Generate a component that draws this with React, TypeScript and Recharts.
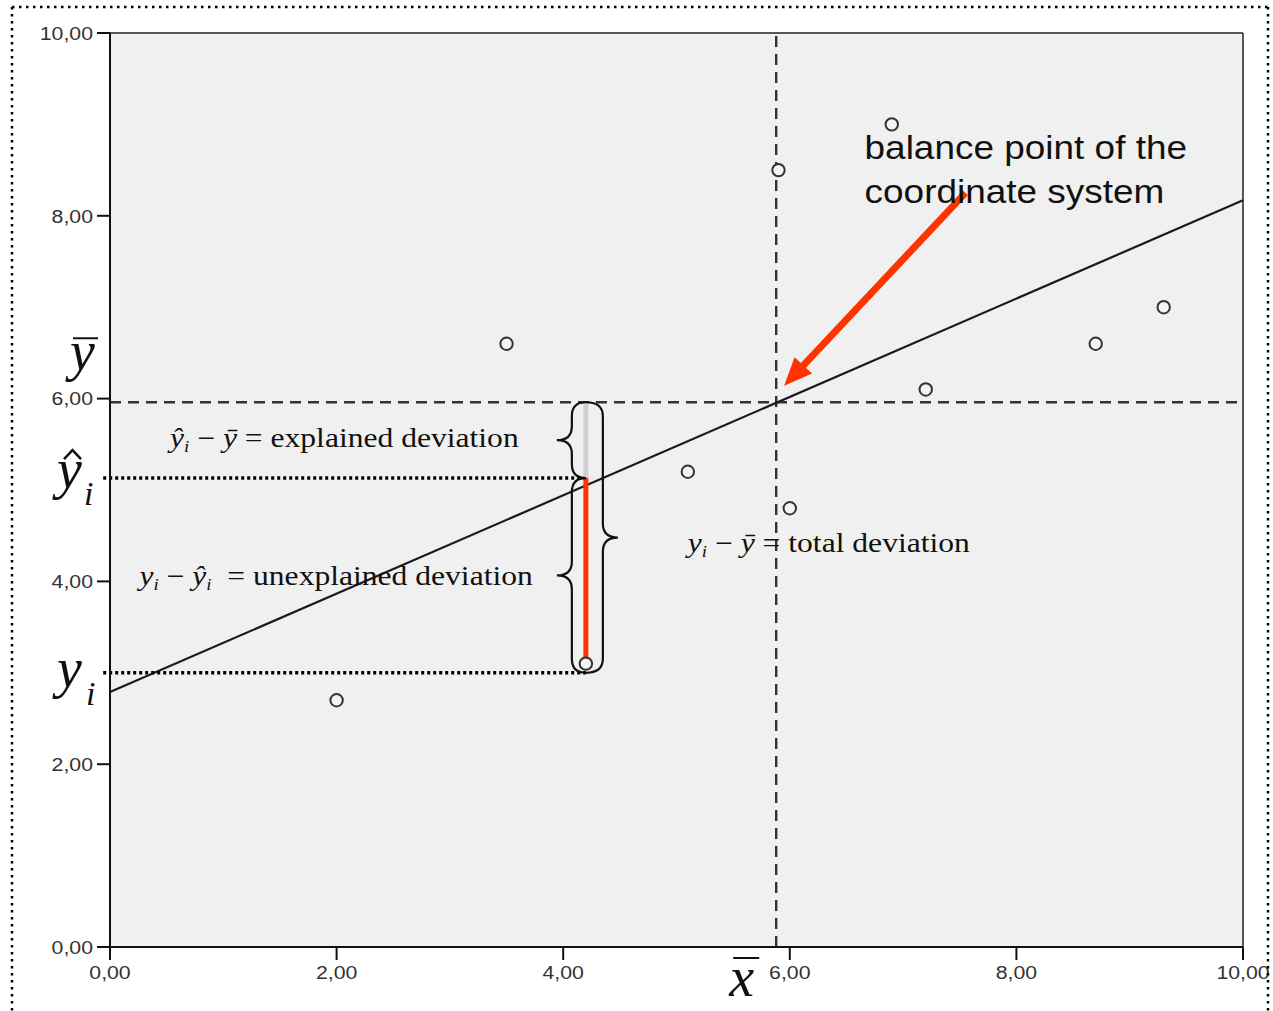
import React from 'react';
import { ScatterChart, Scatter, XAxis, YAxis, CartesianGrid, ReferenceLine, ReferenceDot } from 'recharts';

// ---- data ----
const POINT_X = [2.0, 3.5, 4.2, 5.1, 5.9, 6.0, 6.9, 7.2, 8.7, 9.3];
const POINT_Y = [2.7, 6.6, 3.1, 5.2, 8.5, 4.8, 9.0, 6.1, 6.6, 7.0];
const AXIS_TICKS = [0, 2, 4, 6, 8, 10];
const MEAN_X = 5.88;
const MEAN_Y = 5.96;
const REG_Y_AT_0 = 2.79;
const REG_Y_AT_10 = 8.17;
const SELECTED_X = 4.2;
const SELECTED_Y = 3.1;
const SELECTED_YHAT = 5.13;
const SELECTED_Y_GUIDE = 3.0;

const points = POINT_X.map((x, i) => ({ x, y: POINT_Y[i] }));

const fmt = (v: number) => v.toFixed(2).replace('.', ',');

const SERIF = '"Liberation Serif", "Times New Roman", serif';
const SANS = '"Liberation Sans", Arial, sans-serif';
const RED = '#ff3300';
const INK = '#111';
const STRETCH = 1.17;

const Circle = (p: any) => (
  <circle cx={p.cx} cy={p.cy} r={6.2} fill="#f4f4f4" stroke="#333" strokeWidth={2} />
);

const YTick = (p: any) => (
  <g transform={`translate(${p.x},${p.y}) scale(1.12,1)`}>
    <text x={0} y={0} dy="0.355em" textAnchor="end" fontFamily={SANS} fontSize={19} fill="#333">
      {fmt(p.payload.value)}
    </text>
  </g>
);

const XTick = (p: any) => (
  <g transform={`translate(${p.x},${p.y}) scale(1.12,1)`}>
    <text x={0} y={0} dy="0.71em" textAnchor="middle" fontFamily={SANS} fontSize={19} fill="#333">
      {fmt(p.payload.value)}
    </text>
  </g>
);

function bracePath(xBar: number, yA: number, yB: number, dir: number, off: number, tip: number, r: number) {
  const yt = Math.min(yA, yB);
  const yb = Math.max(yA, yB);
  const ym = (yt + yb) / 2;
  const xs = xBar + dir * off;
  const xt = xBar + dir * tip;
  return `M ${xBar} ${yt} Q ${xs} ${yt} ${xs} ${yt + r} L ${xs} ${ym - r} Q ${xs} ${ym} ${xt} ${ym} Q ${xs} ${ym} ${xs} ${ym + r} L ${xs} ${yb - r} Q ${xs} ${yb} ${xBar} ${yb}`;
}

const braceShape = (dir: number, off: number, tip: number) => (p: any) => (
  <path d={bracePath(p.x1, p.y1, p.y2, dir, off, tip, 14)} fill="none" stroke={INK} strokeWidth={2.2} />
);

const arrowShape = (p: any) => {
  const { x1, y1, x2, y2 } = p;
  const dx = x2 - x1;
  const dy = y2 - y1;
  const len = Math.sqrt(dx * dx + dy * dy);
  const ux = dx / len;
  const uy = dy / len;
  const headLen = 28;
  const halfW = 12;
  const bx = x2 - ux * headLen;
  const by = y2 - uy * headLen;
  const px = -uy;
  const py = ux;
  return (
    <g>
      <line x1={x1} y1={y1} x2={bx + ux * 4} y2={by + uy * 4} stroke={RED} strokeWidth={7} />
      <polygon points={`${x2},${y2} ${bx + px * halfW},${by + py * halfW} ${bx - px * halfW},${by - py * halfW}`} fill={RED} />
    </g>
  );
};

const textStyle: any = { whiteSpace: 'pre' };

const Stretched = ({ cx, cy, k, children }: any) => (
  <g transform={`translate(${cx},${cy}) scale(${k},1)`}>{children}</g>
);

const ExplainedText = (p: any) => (
  <Stretched cx={p.cx} cy={p.cy} k={STRETCH}>
    <text x={0} y={0} fontFamily={SERIF} fontSize={27} fill={INK} style={textStyle}>
      <tspan fontStyle="italic">ŷ</tspan>
      <tspan fontStyle="italic" fontSize={16} dy={5}>i</tspan>
      <tspan dy={-5}> − </tspan>
      <tspan fontStyle="italic">ȳ</tspan>
      <tspan> = explained deviation</tspan>
    </text>
  </Stretched>
);

const UnexplainedText = (p: any) => (
  <Stretched cx={p.cx} cy={p.cy} k={STRETCH}>
    <text x={0} y={0} fontFamily={SERIF} fontSize={27} fill={INK} style={textStyle}>
      <tspan fontStyle="italic">y</tspan>
      <tspan fontStyle="italic" fontSize={16} dy={5}>i</tspan>
      <tspan dy={-5}> − </tspan>
      <tspan fontStyle="italic">ŷ</tspan>
      <tspan fontStyle="italic" fontSize={16} dy={5}>i</tspan>
      <tspan dy={-5}>  = unexplained deviation</tspan>
    </text>
  </Stretched>
);

const TotalText = (p: any) => (
  <Stretched cx={p.cx} cy={p.cy} k={STRETCH}>
    <text x={0} y={0} fontFamily={SERIF} fontSize={27} fill={INK} style={textStyle}>
      <tspan fontStyle="italic">y</tspan>
      <tspan fontStyle="italic" fontSize={16} dy={5}>i</tspan>
      <tspan dy={-5}> − </tspan>
      <tspan fontStyle="italic">ȳ</tspan>
      <tspan> = total deviation</tspan>
    </text>
  </Stretched>
);

const BalanceText = (p: any) => (
  <Stretched cx={p.cx} cy={p.cy} k={1.12}>
    <text x={0} y={0} fontFamily={SANS} fontSize={33} fill={INK}>
      <tspan x={0}>balance point of the</tspan>
      <tspan x={0} dy={44}>coordinate system</tspan>
    </text>
  </Stretched>
);

const BIG = 56;

const YBarLabel = (p: any) => (
  <g>
    <line x1={p.cx - 37} x2={p.cx - 12} y1={p.cy - 64} y2={p.cy - 64} stroke={INK} strokeWidth={2} />
    <text x={p.cx - 40} y={p.cy - 32} fontFamily={SERIF} fontStyle="italic" fontSize={BIG} fill={INK}>y</text>
  </g>
);

const YHatLabel = (p: any) => (
  <g>
    <polyline points={`${p.cx - 46},${p.cy - 19} ${p.cx - 37.5},${p.cy - 28} ${p.cx - 29},${p.cy - 19}`} fill="none" stroke={INK} strokeWidth={2.5} />
    <text x={p.cx - 53} y={p.cy + 10} fontFamily={SERIF} fontStyle="italic" fontSize={BIG} fill={INK}>y</text>
    <text x={p.cx - 26} y={p.cy + 27} fontFamily={SERIF} fontStyle="italic" fontSize={34} fill={INK}>i</text>
  </g>
);

const YiLabel = (p: any) => (
  <g>
    <text x={p.cx - 53} y={p.cy + 14} fontFamily={SERIF} fontStyle="italic" fontSize={BIG} fill={INK}>y</text>
    <text x={p.cx - 24} y={p.cy + 32} fontFamily={SERIF} fontStyle="italic" fontSize={34} fill={INK}>i</text>
  </g>
);

const XBarLabel = (p: any) => (
  <g>
    <line x1={p.cx - 43} x2={p.cx - 17} y1={p.cy + 11} y2={p.cy + 11} stroke={INK} strokeWidth={2} />
    <text x={p.cx - 47} y={p.cy + 49} fontFamily={SERIF} fontStyle="italic" fontSize={BIG} fill={INK}>x</text>
  </g>
);

export default function App() {
  return (
    <div style={{ position: 'absolute', left: 0, top: 0, width: 1273, height: 1011, background: '#fff' }}>
      <ScatterChart width={1273} height={1011} margin={{ top: 33, right: 30, bottom: 34, left: 50 }}>
        <CartesianGrid fill="#f0f0f0" horizontal={false} vertical={false} />
        <XAxis
          type="number"
          dataKey="x"
          domain={[0, 10]}
          ticks={AXIS_TICKS}
          allowDataOverflow
          height={30}
          tickSize={13}
          tickMargin={6}
          axisLine={{ stroke: INK, strokeWidth: 2 }}
          tickLine={{ stroke: INK, strokeWidth: 2 }}
          tick={XTick}
        />
        <YAxis
          type="number"
          dataKey="y"
          domain={[0, 10]}
          ticks={AXIS_TICKS}
          allowDataOverflow
          width={60}
          tickSize={13}
          tickMargin={4}
          axisLine={{ stroke: INK, strokeWidth: 2 }}
          tickLine={{ stroke: INK, strokeWidth: 2 }}
          tick={YTick}
        />
        {/* plot border */}
        <ReferenceLine y={10} stroke="#222" strokeWidth={1.5} />
        <ReferenceLine x={10} stroke="#222" strokeWidth={1.5} />

        {/* means */}
        <ReferenceLine x={MEAN_X} stroke="#333" strokeWidth={2.4} strokeDasharray="11 7" />
        <ReferenceLine y={MEAN_Y} stroke="#333" strokeWidth={2.4} strokeDasharray="11 7" />

        {/* regression line */}
        <ReferenceLine segment={[{ x: 0, y: REG_Y_AT_0 }, { x: 10, y: REG_Y_AT_10 }]} stroke="#1a1a1a" strokeWidth={2.2} />

        {/* dotted guides */}
        <ReferenceLine segment={[{ x: -0.06, y: SELECTED_YHAT }, { x: SELECTED_X, y: SELECTED_YHAT }]} ifOverflow="visible" stroke="#000" strokeWidth={3.5} strokeDasharray="3 3" />
        <ReferenceLine segment={[{ x: -0.06, y: SELECTED_Y_GUIDE }, { x: SELECTED_X, y: SELECTED_Y_GUIDE }]} ifOverflow="visible" stroke="#000" strokeWidth={3.5} strokeDasharray="3 3" />

        {/* explained (gray) and unexplained (red) segments */}
        <ReferenceLine segment={[{ x: SELECTED_X, y: MEAN_Y }, { x: SELECTED_X, y: SELECTED_YHAT }]} stroke="#d0d0d0" strokeWidth={5} />
        <ReferenceLine segment={[{ x: SELECTED_X, y: SELECTED_YHAT }, { x: SELECTED_X, y: SELECTED_Y }]} stroke={RED} strokeWidth={5} />

        {/* braces */}
        <ReferenceLine segment={[{ x: SELECTED_X, y: MEAN_Y }, { x: SELECTED_X, y: SELECTED_YHAT }]} shape={braceShape(-1, 14, 29)} />
        <ReferenceLine segment={[{ x: SELECTED_X, y: SELECTED_YHAT }, { x: SELECTED_X, y: SELECTED_Y_GUIDE }]} shape={braceShape(-1, 14, 29)} />
        <ReferenceLine segment={[{ x: SELECTED_X, y: MEAN_Y }, { x: SELECTED_X, y: SELECTED_Y_GUIDE }]} shape={braceShape(1, 17, 32)} />

        {/* arrow to balance point */}
        <ReferenceLine segment={[{ x: 7.55, y: 8.25 }, { x: 5.95, y: 6.14 }]} shape={arrowShape} />

        <Scatter data={points} shape={Circle} isAnimationActive={false} />

        {/* annotations */}
        <ReferenceDot x={0.53} y={5.47} r={0} shape={ExplainedText} />
        <ReferenceDot x={0.26} y={3.96} r={0} shape={UnexplainedText} />
        <ReferenceDot x={5.1} y={4.32} r={0} shape={TotalText} />
        <ReferenceDot x={6.66} y={8.62} r={0} shape={BalanceText} />
        <ReferenceDot x={0} y={MEAN_Y} r={0} ifOverflow="visible" shape={YBarLabel} />
        <ReferenceDot x={0} y={SELECTED_YHAT} r={0} ifOverflow="visible" shape={YHatLabel} />
        <ReferenceDot x={0} y={SELECTED_Y_GUIDE} r={0} ifOverflow="visible" shape={YiLabel} />
        <ReferenceDot x={MEAN_X} y={0} r={0} ifOverflow="visible" shape={XBarLabel} />
      </ScatterChart>
      <svg width={1273} height={1011} style={{ position: 'absolute', left: 0, top: 0, pointerEvents: 'none' }}>
        <line x1={12} y1={7} x2={1268} y2={7} stroke="#000" strokeWidth={2.5} strokeDasharray="2.5 4.5" />
        <line x1={12} y1={7} x2={12} y2={1011} stroke="#000" strokeWidth={2.5} strokeDasharray="2.5 4.5" />
        <line x1={1268} y1={7} x2={1268} y2={1011} stroke="#000" strokeWidth={2.5} strokeDasharray="2.5 4.5" />
      </svg>
    </div>
  );
}
